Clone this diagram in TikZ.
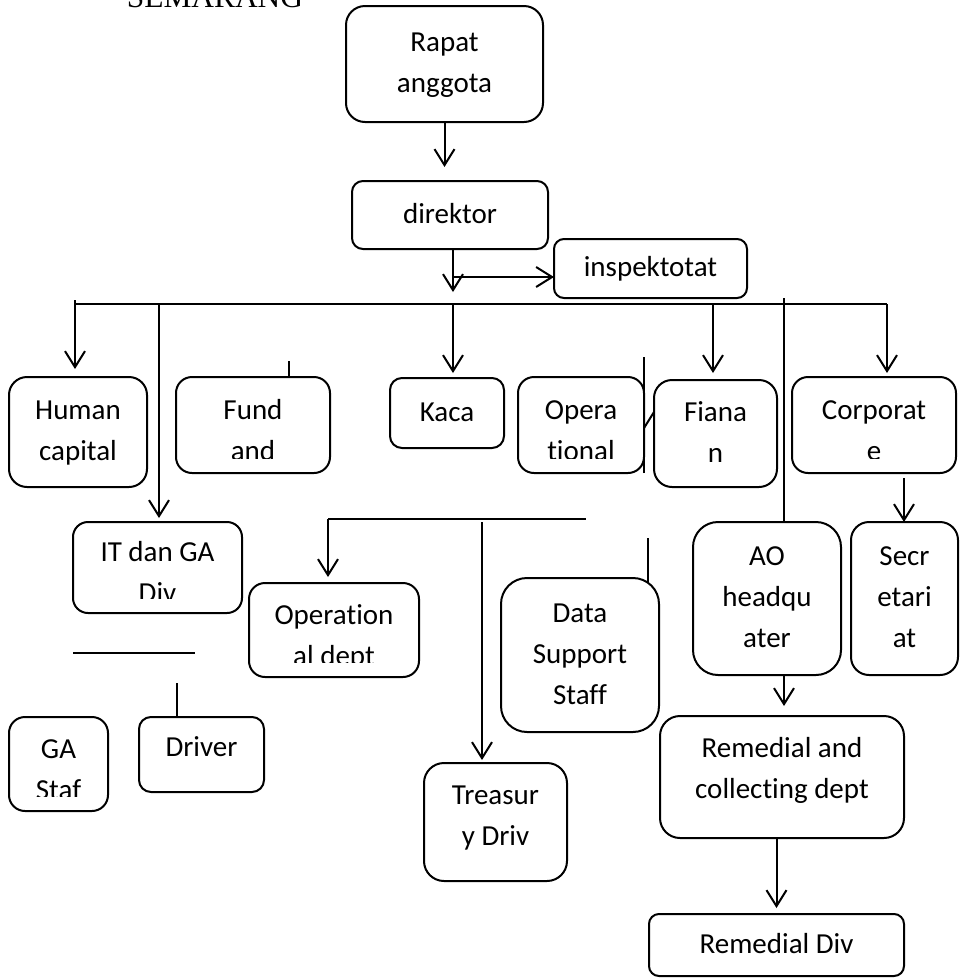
\documentclass[tikz,border=0pt]{standalone}
\usepackage{fontspec}
\setmainfont{Carlito}[Ligatures=NoCommon]
\newfontfamily\serifhead{Liberation Serif}
\usetikzlibrary{arrows.meta}
\tikzset{
  txt/.style={font=\fontsize{29}{41}\selectfont, align=center, inner sep=0pt},
  box/.style={txt, draw, line width=2pt, rounded corners=#1, outer sep=0pt},
  box/.default=15pt,
  wh/.style 2 args={minimum width=#1pt, minimum height=#2pt},
  conn/.style={line width=2pt},
  thinline/.style={line width=1.1pt},
}
% text that the box cuts off at its lower margin
\newcommand{\cutlabel}[2]{%
  \begin{scope}
    \clip (#1.north west) rectangle ([yshift=15pt]#1.south east);
    \node[txt] (#1-t) at ([yshift=-6.5pt]#1.center) {\strut #2\strut};
  \end{scope}}
% extra depth under the last line, lifts the text in its box
\newcommand{\deepen}[1]{\rule[-#1]{0pt}{1pt}}
\begin{document}
\begin{tikzpicture}[x=1pt,y=-1pt,>={Straight Barb[length=16pt,width=20pt]}]
\clip (0,0) rectangle (964,978);
% heading, cut by the top edge
\node[font=\serifhead\fontsize{31.4}{36}\selectfont, anchor=base, inner sep=0pt] (kota) at (215,7) {SEMARANG};

% top of the chart
\node[box=19pt, wh={197}{116}] (ra) at (444.5,64) {\strut Rapat\\anggota\strut};
\node[box=11pt, wh={196}{68}] (dir) at (450,215) {\strut direktor\strut};
\node[box=10pt, wh={193}{59}] (insp) at (650.5,268.5) {\strut inspektotat\strut};

% first row
\node[box=18pt, wh={138}{110}] (hc) at (78,432) {\strut Human\\capital\strut};
\node[box=16pt, wh={154}{96}] (fund) at (253,425) {};
\node[box=12pt, wh={114}{70}] (kaca) at (447,413) {\strut Kaca\strut};
\node[box=16pt, wh={126}{96}] (opera) at (581,425) {};
\node[box=18pt, wh={123}{107}] (fiana) at (715.5,433.5) {\strut Fiana\\n\strut};
\node[box=16pt, wh={164}{96}] (corp) at (874,425) {};

% second row
\node[box=15pt, wh={169}{91}] (itga) at (157.5,567.5) {};
\node[box=16pt, wh={170}{94}] (opdept) at (334,630) {};
\node[box=26pt, wh={158}{154}] (dss) at (580,655) {\strut Data\\Support\\Staff\strut};
\node[box=25pt, wh={148}{153}] (ao) at (767,598.5) {\strut AO\\headqu\\ater\strut};
\node[box=18pt, wh={107}{153}] (secr) at (904.5,598.5) {\strut Secr\\etari\\at\strut};

% lower rows
\node[box=16pt, wh={99}{94}] (gastaf) at (58.5,764) {};
\node[box=12pt, wh={125}{75}] (driver) at (201.5,754.5) {\strut Driver\deepen{24pt}};
\node[box=20pt, wh={143}{118}] (treas) at (495.5,822) {\strut Treasur\\y Driv\deepen{22pt}};
\node[box=20pt, wh={244}{122}] (remcol) at (782,777) {\strut Remedial and\\collecting dept\deepen{26pt}};
\node[box=10pt, wh={255}{62}] (remdiv) at (776.5,945) {\strut Remedial Div\strut};

\cutlabel{fund}{Fund\\and}
\cutlabel{opera}{Opera\\tional}
\cutlabel{corp}{Corporat\\e}
\cutlabel{itga}{IT dan GA\\Div}
\cutlabel{opdept}{Operation\\al dept}
\cutlabel{gastaf}{GA\\Staf}

% rapat -> direktor -> main line and inspektotat
\draw[conn,->,shorten >=14pt] (ra.south) -- (ra.south |- dir.north);
\coordinate (dK) at (453,304);
\coordinate (dI) at (453,277);
\draw[conn,->] (dir.south -| dK) -- ([yshift=12pt]dK);
\draw[conn,->] (dI) -- (dI -| insp.west);

% main line and the drops from it
\coordinate (busL) at (75,304);
\coordinate (busR) at (887,304);
\draw[thinline] (busL) -- (busR);
\foreach \x/\y/\n/\g in {75/300/hc/8pt, 159/304/itga/4pt, 453/304/kaca/5pt, 713/304/fiana/7pt, 887/304/corp/4pt}
  \draw[conn,->,shorten >=\g] (\x,\y) coordinate (top\n) -- (top\n |- \n.north);
\coordinate (aoT) at (784,298);
\draw[conn] (aoT) -- (aoT |- ao.north);
\draw[conn,->,shorten >=10pt] (aoT |- ao.south) -- (aoT |- remcol.north);
\draw[conn,->,shorten >=6pt] (remdiv.north |- remcol.south) -- (remdiv.north);
\coordinate (cS) at (904,478);
\draw[conn,->] (cS) -- (cS |- secr.north);

% operational line
\coordinate (oL) at (328,519);
\coordinate (oR) at (586,519);
\draw[thinline] (oL) -- (oR);
\draw[conn,->,shorten >=6pt] (oL) -- (oL |- opdept.north);
\coordinate (tT) at (482,522);
\draw[conn,->,shorten >=3pt] (tT) -- (tT |- treas.north);

% loose strokes
\draw[conn] ([xshift=36pt]fund.north) -- ++(0,-16);
\draw[conn] (opera.south east) -- ++(0,-116);
\draw[conn] ([yshift=45pt]opera.south east) -- ([yshift=21.5pt]fiana.west);
\draw[thinline] ([xshift=-11pt,yshift=-4pt]dss.north east) -- ++(0,-44);
\draw[thinline] ([yshift=-40pt]itga.south west) -- ++(122,0);
\draw[thinline] ([xshift=-24.5pt]driver.north) -- ++(0,-34);
\end{tikzpicture}
\end{document}
